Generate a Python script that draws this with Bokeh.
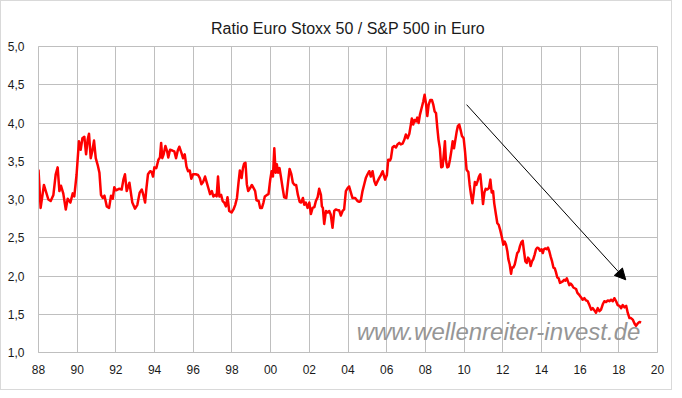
from bokeh.plotting import figure
from bokeh.models import Range1d, FixedTicker, Label, Arrow, NormalHead, ColumnDataSource
from bokeh.embed import file_html
from bokeh.resources import INLINE

title_text = "Ratio Euro Stoxx 50 / S&P 500 in Euro"
watermark_text = "www.wellenreiter-invest.de"

x_ticks = [1988, 1990, 1992, 1994, 1996, 1998, 2000, 2002, 2004, 2006, 2008, 2010, 2012, 2014, 2016, 2018, 2020]
x_tick_labels = ["88", "90", "92", "94", "96", "98", "00", "02", "04", "06", "08", "10", "12", "14", "16", "18", "20"]
y_ticks = [1.0, 1.5, 2.0, 2.5, 3.0, 3.5, 4.0, 4.5, 5.0]
y_tick_labels = ["1,0", "1,5", "2,0", "2,5", "3,0", "3,5", "4,0", "4,5", "5,0"]

years = [
    1988.00, 1988.11, 1988.28, 1988.51, 1988.63, 1988.77, 1988.89, 1988.99, 1989.08, 1989.16,
    1989.28, 1989.41, 1989.51, 1989.65, 1989.77, 1989.85, 1989.97, 1990.09, 1990.18, 1990.27,
    1990.37, 1990.46, 1990.54, 1990.61, 1990.70, 1990.78, 1990.87, 1990.96, 1991.06, 1991.15,
    1991.23, 1991.32, 1991.41, 1991.53, 1991.65, 1991.75, 1991.84, 1991.92, 1992.01, 1992.16,
    1992.30, 1992.39, 1992.47, 1992.56, 1992.70, 1992.85, 1992.99, 1993.11, 1993.23, 1993.34,
    1993.42, 1993.51, 1993.58, 1993.66, 1993.77, 1993.85, 1993.92, 1993.99, 1994.09, 1994.20,
    1994.28, 1994.34, 1994.40, 1994.47, 1994.56, 1994.65, 1994.71, 1994.80, 1994.92, 1995.02,
    1995.11, 1995.20, 1995.28, 1995.39, 1995.47, 1995.56, 1995.65, 1995.73, 1995.82, 1995.90,
    1995.99, 1996.13, 1996.25, 1996.34, 1996.42, 1996.51, 1996.61, 1996.70, 1996.78, 1996.87,
    1996.96, 1997.04, 1997.13, 1997.21, 1997.28, 1997.35, 1997.44, 1997.52, 1997.60, 1997.69,
    1997.77, 1997.86, 1997.98, 1998.08, 1998.17, 1998.26, 1998.34, 1998.41, 1998.50, 1998.57,
    1998.63, 1998.70, 1998.77, 1998.84, 1998.94, 1999.03, 1999.12, 1999.20, 1999.27, 1999.38,
    1999.46, 1999.55, 1999.63, 1999.70, 1999.81, 1999.89, 1999.98, 2000.05, 2000.12, 2000.19,
    2000.26, 2000.32, 2000.39, 2000.46, 2000.53, 2000.62, 2000.70, 2000.81, 2000.89, 2000.98,
    2001.07, 2001.15, 2001.24, 2001.32, 2001.41, 2001.50, 2001.58, 2001.67, 2001.74, 2001.82,
    2001.91, 2002.00, 2002.08, 2002.17, 2002.26, 2002.34, 2002.43, 2002.51, 2002.60, 2002.65,
    2002.70, 2002.77, 2002.86, 2002.95, 2003.03, 2003.11, 2003.20, 2003.29, 2003.37, 2003.46,
    2003.54, 2003.63, 2003.72, 2003.80, 2003.89, 2003.98, 2004.06, 2004.15, 2004.23, 2004.37,
    2004.49, 2004.58, 2004.66, 2004.75, 2004.84, 2004.92, 2005.01, 2005.10, 2005.18, 2005.27,
    2005.36, 2005.44, 2005.53, 2005.61, 2005.70, 2005.79, 2005.87, 2005.92, 2006.01, 2006.08,
    2006.17, 2006.22, 2006.30, 2006.39, 2006.48, 2006.56, 2006.65, 2006.73, 2006.82, 2006.91,
    2006.99, 2007.08, 2007.17, 2007.25, 2007.30, 2007.37, 2007.44, 2007.51, 2007.58, 2007.65,
    2007.72, 2007.80, 2007.89, 2007.96, 2008.03, 2008.10, 2008.17, 2008.25, 2008.34, 2008.41,
    2008.48, 2008.55, 2008.62, 2008.68, 2008.75, 2008.82, 2008.89, 2008.96, 2009.01, 2009.06,
    2009.13, 2009.20, 2009.27, 2009.34, 2009.41, 2009.48, 2009.55, 2009.62, 2009.68, 2009.75,
    2009.82, 2009.89, 2009.98, 2010.05, 2010.13, 2010.22, 2010.29, 2010.36, 2010.43, 2010.50,
    2010.56, 2010.63, 2010.70, 2010.77, 2010.84, 2010.91, 2010.98, 2011.05, 2011.12, 2011.20,
    2011.29, 2011.36, 2011.43, 2011.50, 2011.56, 2011.65, 2011.72, 2011.79, 2011.87, 2011.96,
    2012.03, 2012.10, 2012.17, 2012.24, 2012.29, 2012.36, 2012.43, 2012.48, 2012.55, 2012.62,
    2012.68, 2012.75, 2012.82, 2012.89, 2012.96, 2013.03, 2013.10, 2013.17, 2013.24, 2013.31,
    2013.37, 2013.44, 2013.51, 2013.58, 2013.65, 2013.72, 2013.79, 2013.86, 2013.93, 2014.00,
    2014.07, 2014.13, 2014.20, 2014.27, 2014.34, 2014.41, 2014.48, 2014.55, 2014.62, 2014.69,
    2014.75, 2014.82, 2014.89, 2014.96, 2015.03, 2015.10, 2015.17, 2015.24, 2015.31, 2015.37,
    2015.44, 2015.51, 2015.58, 2015.65, 2015.72, 2015.79, 2015.86, 2015.93, 2016.05, 2016.13,
    2016.22, 2016.31, 2016.39, 2016.48, 2016.57, 2016.65, 2016.74, 2016.82, 2016.91, 2017.00,
    2017.08, 2017.17, 2017.25, 2017.34, 2017.43, 2017.51, 2017.60, 2017.69, 2017.77, 2017.86,
    2017.94, 2018.03, 2018.12, 2018.20, 2018.29, 2018.38, 2018.46, 2018.55, 2018.63, 2018.72,
    2018.81, 2018.89, 2018.98, 2019.07, 2019.15,
]
ratio = [
    3.39, 2.89, 3.19, 3.00, 2.98, 3.06, 3.33, 3.42, 3.11, 3.18,
    3.08, 2.87, 3.01, 2.96, 3.08, 3.04, 3.33, 3.76, 3.65, 3.80,
    3.82, 3.59, 3.78, 3.86, 3.54, 3.63, 3.77, 3.54, 3.45, 3.35,
    3.06, 3.02, 3.05, 2.91, 2.89, 3.05, 3.01, 3.16, 3.12, 3.14,
    3.13, 3.26, 3.33, 3.11, 3.22, 2.96, 2.88, 2.93, 3.09, 3.13,
    3.06, 2.96, 3.15, 3.33, 3.37, 3.36, 3.30, 3.42, 3.41, 3.52,
    3.55, 3.74, 3.54, 3.59, 3.70, 3.63, 3.55, 3.65, 3.64, 3.63,
    3.54, 3.64, 3.69, 3.61, 3.54, 3.59, 3.43, 3.37, 3.38, 3.27,
    3.33, 3.33, 3.32, 3.28, 3.20, 3.23, 3.30, 3.22, 3.15, 3.07,
    3.11, 3.04, 3.06, 3.04, 3.30, 3.04, 3.06, 2.98, 2.96, 2.91,
    3.03, 2.85, 2.83, 2.87, 2.93, 3.02, 3.22, 3.38, 3.28, 3.41,
    3.47, 3.48, 3.20, 3.11, 3.15, 3.19, 3.15, 3.11, 2.99, 2.98,
    2.89, 2.89, 2.96, 3.04, 3.06, 3.07, 3.26, 3.37, 3.30, 3.67,
    3.35, 3.46, 3.35, 3.41, 3.30, 3.15, 3.03, 3.02, 3.20, 3.40,
    3.33, 3.22, 3.19, 3.19, 3.06, 2.97, 2.96, 3.02, 2.93, 2.96,
    2.89, 2.96, 2.81, 2.89, 2.90, 2.98, 3.03, 3.14, 3.06, 2.91,
    2.89, 2.68, 2.85, 2.83, 2.85, 2.80, 2.63, 2.85, 2.87, 2.86,
    2.86, 2.79, 2.85, 2.87, 3.11, 3.15, 3.17, 3.09, 3.02, 3.02,
    2.98, 2.97, 2.98, 3.11, 3.20, 3.28, 3.33, 3.37, 3.30, 3.37,
    3.24, 3.19, 3.24, 3.28, 3.32, 3.37, 3.30, 3.26, 3.32, 3.52,
    3.51, 3.54, 3.68, 3.70, 3.68, 3.72, 3.74, 3.72, 3.73, 3.78,
    3.85, 3.80, 3.86, 3.98, 4.06, 3.98, 4.04, 4.02, 4.07, 4.00,
    4.11, 4.19, 4.28, 4.37, 4.26, 4.09, 4.24, 4.30, 4.30, 4.24,
    4.15, 4.13, 3.93, 3.78, 3.67, 3.42, 3.43, 3.61, 3.76, 3.52,
    3.42, 3.43, 3.52, 3.63, 3.76, 3.67, 3.78, 3.89, 3.96, 3.98,
    3.91, 3.83, 3.80, 3.63, 3.39, 3.36, 3.19, 3.06, 2.95, 3.09,
    3.23, 3.19, 3.24, 3.30, 3.33, 3.15, 2.94, 3.09, 3.14, 3.13,
    3.15, 3.26, 3.09, 3.11, 2.95, 2.80, 2.69, 2.67, 2.60, 2.50,
    2.41, 2.45, 2.41, 2.32, 2.22, 2.15, 2.03, 2.11, 2.11, 2.15,
    2.22, 2.30, 2.32, 2.39, 2.44, 2.46, 2.32, 2.19, 2.17, 2.24,
    2.22, 2.13, 2.19, 2.22, 2.28, 2.35, 2.37, 2.36, 2.33, 2.35,
    2.30, 2.35, 2.36, 2.35, 2.37, 2.32, 2.25, 2.19, 2.11, 2.10,
    2.05, 1.98, 1.97, 1.91, 1.92, 1.93, 1.95, 1.94, 1.97, 1.93,
    1.88, 1.90, 1.88, 1.85, 1.84, 1.83, 1.78, 1.76, 1.72, 1.69,
    1.71, 1.68, 1.67, 1.62, 1.56, 1.58, 1.55, 1.52, 1.58, 1.54,
    1.56, 1.63, 1.67, 1.66, 1.68, 1.67, 1.69, 1.67, 1.71, 1.67,
    1.62, 1.61, 1.58, 1.62, 1.59, 1.61, 1.52, 1.45, 1.45, 1.43,
    1.38, 1.35, 1.38, 1.40, 1.39,
]

arrow_start = (2010.13, 4.24)
arrow_end = (2018.36, 1.95)
watermark_pos = (2004.45, 1.27)

GRID = "#bfbfbf"
TXT = "#1a1a1a"

p = figure(
    width=672, height=390,
    x_range=Range1d(1988, 2020), y_range=Range1d(1.0, 5.0),
    output_backend="svg", toolbar_location=None,
    min_border_left=37, min_border_right=16, min_border_top=45, min_border_bottom=39,
    background_fill_color="white", border_fill_color="white",
)
p.styles = {"border": "1px solid #d9d9d9"}

p.title.text = title_text
p.title.align = "center"
p.title.text_font = "Liberation Sans"
p.title.text_font_size = "16px"
p.title.text_font_style = "normal"
p.title.text_color = TXT
p.title.standoff = 20

p.outline_line_color = GRID
p.outline_line_width = 1

p.xaxis.ticker = FixedTicker(ticks=x_ticks)
p.yaxis.ticker = FixedTicker(ticks=y_ticks)
p.xaxis.major_label_overrides = {t: l for t, l in zip(x_ticks, x_tick_labels)}
p.yaxis.major_label_overrides = {t: l for t, l in zip(y_ticks, y_tick_labels)}

for ax in (p.xaxis, p.yaxis):
    ax.axis_line_color = GRID
    ax.major_tick_line_color = None
    ax.minor_tick_line_color = None
    ax.major_label_text_font = "Liberation Sans"
    ax.major_label_text_font_size = "12px"
    ax.major_label_text_color = TXT
p.xaxis.major_label_standoff = 6
p.yaxis.major_label_standoff = 8

p.xgrid.ticker = FixedTicker(ticks=x_ticks)
p.ygrid.ticker = FixedTicker(ticks=y_ticks)
p.grid.grid_line_color = GRID
p.grid.grid_line_width = 1

src = ColumnDataSource(dict(x=years, y=ratio))
p.line("x", "y", source=src, line_color="#ff0000", line_width=2.5, line_join="round")

p.add_layout(Arrow(
    end=NormalHead(size=11, fill_color="black", line_color="black", line_width=1),
    x_start=arrow_start[0], y_start=arrow_start[1],
    x_end=arrow_end[0], y_end=arrow_end[1],
    line_color="black", line_width=1,
))

p.add_layout(Label(
    x=watermark_pos[0], y=watermark_pos[1], text=watermark_text,
    text_font="Liberation Sans", text_font_style="italic", text_font_size="24px",
    text_color="#969696", text_baseline="middle", text_align="left",
))

open("out.html", "w").write(file_html(p, INLINE))
